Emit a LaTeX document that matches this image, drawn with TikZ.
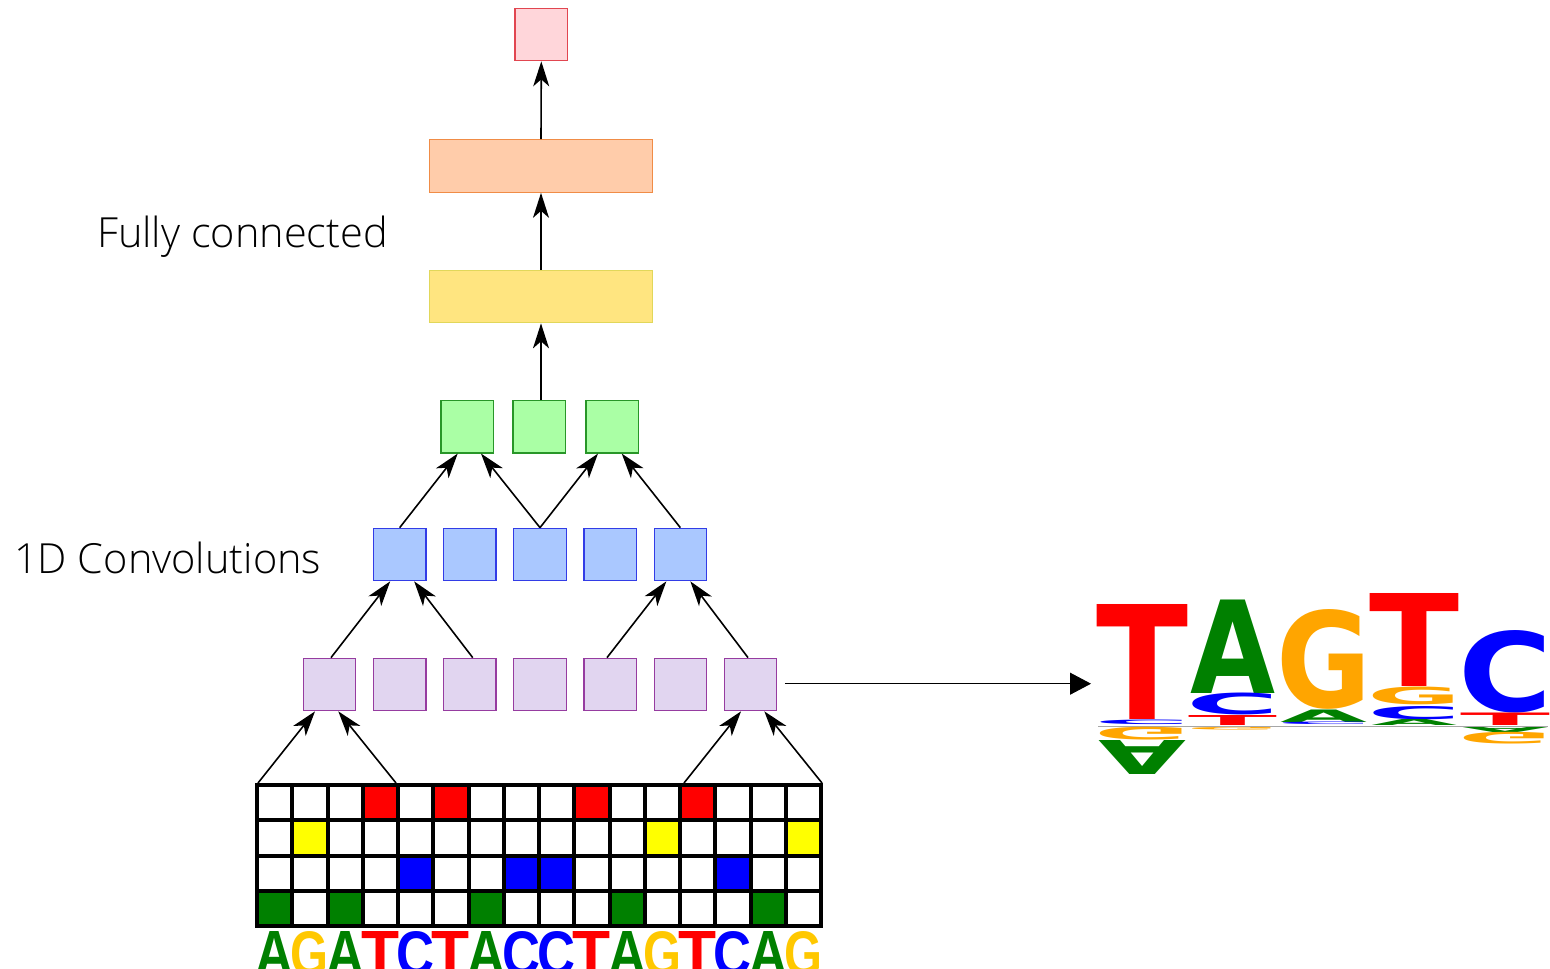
\documentclass[tikz,border=0pt]{standalone}
\usepackage{fontspec}
\usepackage{graphicx}
\usetikzlibrary{arrows.meta,calc}
\newfontfamily\labelfont{Open Sans Light}
\newfontfamily\seqfont{Liberation Sans}
\newfontfamily\logofont{DejaVu Sans}

\definecolor{outfill}{RGB}{255,214,218}
\definecolor{outdraw}{RGB}{225,70,80}
\definecolor{fctwofill}{RGB}{255,204,170}
\definecolor{fctwodraw}{RGB}{240,140,70}
\definecolor{fconefill}{RGB}{255,229,128}
\definecolor{fconedraw}{RGB}{225,215,90}
\definecolor{poolfill}{RGB}{170,255,165}
\definecolor{pooldraw}{RGB}{40,150,40}
\definecolor{convfill}{RGB}{170,200,255}
\definecolor{convdraw}{RGB}{50,60,230}
\definecolor{featfill}{RGB}{225,213,240}
\definecolor{featdraw}{RGB}{150,60,160}
\definecolor{nucA}{RGB}{0,128,0}
\definecolor{nucC}{RGB}{0,0,255}
\definecolor{nucG}{RGB}{255,200,0}
\definecolor{nucT}{RGB}{255,0,0}
\definecolor{cellG}{RGB}{255,255,0}
\definecolor{logoG}{RGB}{255,165,0}

% logo letter standing on the baseline: x0, x1, ytop, ybottom, colour, letter
\newcommand\logoup[6]{%
  \node[inner sep=0, anchor=south west, text=#5] at (#1,#4)
    {\resizebox{\dimexpr #2pt-#1pt\relax}{\dimexpr #4pt-#3pt\relax}{\logofont\bfseries #6}};}
% logo letter hanging upside down below the baseline
\newcommand\logodown[6]{%
  \node[inner sep=0, anchor=north west, text=#5] at (#1,#3)
    {\scalebox{1}[-1]{\resizebox{\dimexpr #2pt-#1pt\relax}{\dimexpr #4pt-#3pt\relax}{\logofont\bfseries #6}}};}

\tikzset{
  layerbox/.style={draw, line width=1.2pt, inner sep=0, minimum width=52.5pt, minimum height=52.5pt},
  outbox/.style={layerbox, fill=outfill, draw=outdraw},
  fcbox/.style={layerbox, minimum width=223.5pt},
  poolbox/.style={layerbox, fill=poolfill, draw=pooldraw},
  convbox/.style={layerbox, fill=convfill, draw=convdraw},
  featbox/.style={layerbox, fill=featfill, draw=featdraw},
  flow/.style={line width=1.6pt, -{Stealth[length=25pt,width=16pt,inset=7pt]}},
  layerlabel/.style={inner sep=0, anchor=base west, font=\labelfont\fontsize{41.5}{50}\selectfont},
}

\begin{document}
\begin{tikzpicture}[x=1pt, y=-1pt]
\useasboundingbox (0,0) rectangle (1550,969);

% fully connected part
\node[outbox] (out) at (541.3,34.5) {};
\node[fcbox, fill=fctwofill, draw=fctwodraw] (fc2) at (541,166) {};
\node[fcbox, fill=fconefill, draw=fconedraw] (fc1) at (541,296.5) {};

% pooled convolution outputs
\node[poolbox] (g1) at (467.3,426.7) {};
\node[poolbox] (g2) at (539.2,426.7) {};
\node[poolbox] (g3) at (612.3,426.7) {};

% second convolution layer
\foreach \i in {1,...,5}
  \node[convbox] (b\i) at (329.5+70.17*\i,554.5) {};

% first convolution layer
\foreach \i in {1,...,7}
  \node[featbox] (p\i) at (259.33+70.17*\i,684.5) {};

% labels
\node[layerlabel] (lfc) at (97,247) {Fully connected};
\node[layerlabel] (lconv) at (14,573.5) {1D Convolutions};

% one-hot encoded input
\foreach \r/\c/\l/\lc [count=\i from 0] in {
  3/nucA/A/nucA, 1/cellG/G/nucG, 3/nucA/A/nucA, 0/nucT/T/nucT,
  2/nucC/C/nucC, 0/nucT/T/nucT, 3/nucA/A/nucA, 2/nucC/C/nucC,
  2/nucC/C/nucC, 0/nucT/T/nucT, 3/nucA/A/nucA, 1/cellG/G/nucG,
  0/nucT/T/nucT, 2/nucC/C/nucC, 3/nucA/A/nucA, 1/cellG/G/nucG} {
  \fill[\c] (257+35.25*\i,785+35.25*\r) rectangle ++(35.25,35.25);
  \node[inner sep=0, anchor=south, text=\lc] (s\i) at (274.6+35.25*\i,976)
    {\resizebox{38pt}{44pt}{\seqfont\bfseries \l}};
}
\foreach \k in {1,...,15}
  \draw[line width=4pt] (257+35.25*\k,785) -- (257+35.25*\k,926);
\foreach \k in {1,2,3}
  \draw[line width=4pt] (257,785+35.25*\k) -- (821,785+35.25*\k);
\draw[line width=4pt] (257,785) rectangle (821,926);

\coordinate (w1a) at (258,783);
\coordinate (w1b) at (396,783);
\coordinate (w2a) at (684,783);
\coordinate (w2b) at (822,783);

% connections
\draw[flow] (w1a) -- ($(p1.south)+(-14.5,0)$);
\draw[flow] (w1b) -- ($(p1.south)+(8.8,0)$);
\draw[flow] (w2a) -- ($(p7.south)+(-9.5,0)$);
\draw[flow] (w2b) -- ($(p7.south)+(13.8,0)$);

\draw[flow] ($(p1.north)+(1.5,0)$) -- ($(b1.south)+(-9.5,0)$);
\draw[flow] ($(p3.north)+(2.9,0)$) -- ($(b1.south)+(14.5,0)$);
\draw[flow] ($(p5.north)+(-3.2,0)$) -- ($(b5.south)+(-14,0)$);
\draw[flow] ($(p7.north)+(-2.5,0)$) -- ($(b5.south)+(10,0)$);

\draw[flow] (b1.north) -- ($(g1.south)+(-9.6,0)$);
\draw[flow] (b3.north) -- ($(g1.south)+(13.7,0)$);
\draw[flow] (b3.north) -- ($(g3.south)+(-14.3,0)$);
\draw[flow] (b5.north) -- ($(g3.south)+(9.4,0)$);

\draw[flow] (g2.north -| fc1.south) -- (fc1.south);
\draw[flow] (fc1.north) -- (fc2.south);
\draw[flow] (fc2.north) -- (out.south);

% sequence logo
\coordinate (logoin) at (1091,684);
\draw[line width=1pt, -{Triangle[length=21pt,width=22pt]}] ($(p7.east)+(7.5,-0.8)$) -- (logoin |- 0,683.7);

\draw[gray!70, line width=1pt] (1098,726) -- (1548,726);

\logoup{1096}{1188}{605}{720}{nucT}{T}
\logoup{1094}{1190}{720}{724.5}{nucC}{C}
\logodown{1094}{1190}{727.5}{740}{logoG}{G}
\logodown{1098}{1186}{740}{774}{nucA}{A}

\logoup{1190}{1275}{600}{693.5}{nucA}{A}
\logoup{1186}{1279}{694}{715.5}{nucC}{C}
\logoup{1188}{1277}{716}{726}{nucT}{T}
\logodown{1186}{1279}{727}{729.5}{logoG}{G}

\logoup{1276}{1371}{612}{710}{logoG}{G}
\logoup{1280}{1367}{710}{722.5}{nucA}{A}
\logoup{1276}{1371}{722.5}{725}{nucC}{C}

\logoup{1369}{1459}{594}{687}{nucT}{T}
\logoup{1367}{1461}{687.5}{705}{logoG}{G}
\logoup{1367}{1461}{707}{720}{nucC}{C}
\logoup{1371}{1457}{720}{726}{nucA}{A}

\logoup{1458}{1552}{632}{713}{nucC}{C}
\logoup{1460}{1550}{713.5}{726}{nucT}{T}
\logodown{1462}{1548}{727}{732}{nucA}{A}
\logodown{1458}{1552}{732}{743.5}{logoG}{G}
\end{tikzpicture}
\end{document}
